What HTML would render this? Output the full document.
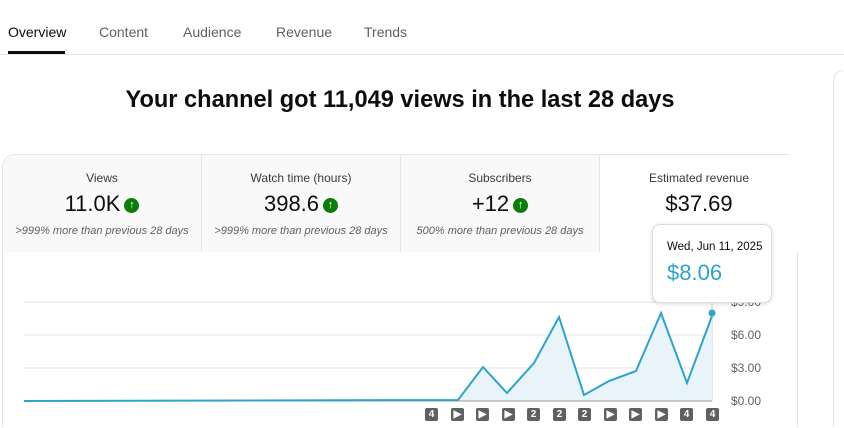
<!DOCTYPE html><html><head><style>
html,body{margin:0;width:844px;height:428px;overflow:hidden}
body{background:#fff;font-family:"Liberation Sans",Roboto,sans-serif;position:relative}
.tab{position:absolute;top:24px;font-size:14px;color:#606060}
.t{position:absolute;text-align:center;width:198px;top:155px;height:97px;background:#f9f9f9;border-right:1px solid #e5e5e5}
.t .a{margin-top:16px;font-size:12px;color:#3a3a3a}
.t .b{margin-top:6px;font-size:22px;color:#0d0d0d}
.t .c{margin-top:8px;font-size:11px;font-style:italic;color:#606060}
.up{display:inline-block;width:15px;height:15px;border-radius:50%;background:#0a7d0a;color:#fff;font-size:11px;line-height:15px;vertical-align:3px;margin-left:4px;font-weight:bold}
.yl{position:absolute;left:731px;font-size:12px;color:#606060}
.bx{position:absolute;top:408px;width:13px;height:13px;background:#606060;border-radius:2px;color:#fff;font-size:10px;line-height:13px;text-align:center;font-weight:bold}
</style></head><body>
<div class="tab" style="left:8px;color:#0d0d0d">Overview</div>
<div class="tab" style="left:99px">Content</div>
<div class="tab" style="left:183px">Audience</div>
<div class="tab" style="left:276px">Revenue</div>
<div class="tab" style="left:364px">Trends</div>
<div style="position:absolute;left:8px;top:51px;width:57px;height:3px;background:#0d0d0d"></div>
<div style="position:absolute;left:0;top:54px;width:844px;height:1px;background:#e5e5e5"></div>
<div style="position:absolute;left:833px;top:70px;width:9px;height:356px;border:1px solid #e5e5e5;border-right:none;border-bottom:none;border-top-left-radius:10px"></div>
<div style="position:absolute;left:0;width:800px;top:87px;text-align:center;font-size:23.6px;font-weight:bold;color:#0d0d0d">Your channel got 11,049 views in the last 28 days</div>
<div style="position:absolute;left:2px;top:154px;width:794px;height:272px;border:1px solid #e5e5e5;border-bottom:none;border-radius:12px 12px 0 0"></div>
<div class="t" style="left:3px;border-top-left-radius:12px"><div class="a">Views</div><div class="b">11.0K<span class="up">↑</span></div><div class="c">&gt;999% more than previous 28 days</div></div>
<div class="t" style="left:202px"><div class="a">Watch time (hours)</div><div class="b">398.6<span class="up">↑</span></div><div class="c">&gt;999% more than previous 28 days</div></div>
<div class="t" style="left:401px"><div class="a">Subscribers</div><div class="b">+12<span class="up">↑</span></div><div class="c">500% more than previous 28 days</div></div>
<div class="t" style="left:600px;background:#fff;border:none;top:155px"><div class="a">Estimated revenue</div><div class="b">$37.69</div></div>
<svg style="position:absolute;left:0;top:0" width="844" height="428">
<g stroke="#e5e5e5"><line x1="24" x2="712" y1="302" y2="302"/><line x1="24" x2="712" y1="335" y2="335"/><line x1="24" x2="712" y1="368" y2="368"/></g>
<line x1="712" x2="712" y1="302" y2="401" stroke="#ccc"/>
<polygon fill="#e8f4fa" points="24,401 458,400 483,367 507,393 534,363 559,317 584,395 609,381 636,371 661,313 687,383 712,316 712,401"/>
<line x1="24" x2="712" y1="401" y2="401" stroke="#999"/>
<polyline fill="none" stroke="#2ea3cc" stroke-width="2" points="24,401 458,400 483,367 507,393 534,363 559,317 584,395 609,381 636,371 661,313 687,383 712,316"/>
<circle cx="712" cy="313" r="3.5" fill="#2ea3cc"/>
</svg>
<div class="yl" style="top:295px">$9.00</div>
<div class="yl" style="top:328px">$6.00</div><div class="yl" style="top:361px">$3.00</div><div class="yl" style="top:394px">$0.00</div>
<div class="bx" style="left:425px">4</div><div class="bx" style="left:451px">▶</div><div class="bx" style="left:476px">▶</div><div class="bx" style="left:502px">▶</div><div class="bx" style="left:527px">2</div><div class="bx" style="left:553px">2</div><div class="bx" style="left:578px">2</div><div class="bx" style="left:604px">▶</div><div class="bx" style="left:629px">▶</div><div class="bx" style="left:655px">▶</div><div class="bx" style="left:680px">4</div><div class="bx" style="left:706px">4</div>
<div style="position:absolute;left:652px;top:224px;width:118px;height:77px;background:#fff;border:1px solid #ddd;border-radius:8px;box-shadow:0 1px 4px rgba(0,0,0,.15)">
<div style="margin:16px 0 0 14px;font-size:11.5px;color:#0d0d0d">Wed, Jun 11, 2025</div>
<div style="margin:7px 0 0 14px;font-size:22px;color:#2ea3cc">$8.06</div></div>
</body></html>
